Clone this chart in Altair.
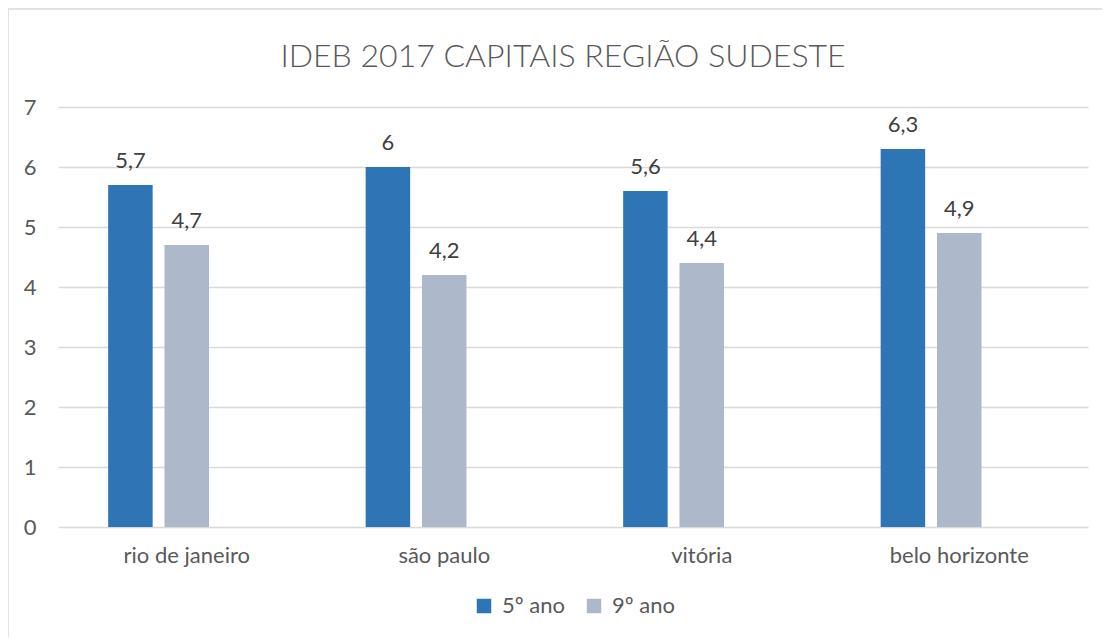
import altair as alt
import pandas as pd

cities = ["rio de janeiro", "são paulo", "vitória", "belo horizonte"]
ano5 = [5.7, 6.0, 5.6, 6.3]
ano9 = [4.7, 4.2, 4.4, 4.9]
series = ["5º ano", "9º ano"]
colors = ["#2E75B6", "#ADB9CA"]

rows = []
for c, a, b in zip(cities, ano5, ano9):
    rows.append({"city": c, "serie": series[0], "v": a})
    rows.append({"city": c, "serie": series[1], "v": b})
df = pd.DataFrame(rows)
df["label"] = df["v"].map(lambda x: (f"{x:g}").replace(".", ","))

FONT = "Lato"
TXT = "#595959"
FS = 22

x = alt.X("city:N", sort=cities, title=None,
          scale=alt.Scale(paddingInner=0, paddingOuter=0),
          axis=alt.Axis(labelAngle=0, ticks=False, domain=False, labelFontSize=FS,
                        labelColor=TXT, labelFont=FONT, labelPadding=18, grid=False))
xo = alt.XOffset("serie:N", scale=alt.Scale(domain=series + ["_"], paddingInner=0.21, paddingOuter=0.89))
y = alt.Y("v:Q", title=None,
          scale=alt.Scale(domain=[0, 7], nice=False),
          axis=alt.Axis(values=list(range(8)), ticks=False, domain=False, labelFontSize=FS,
                        labelColor=TXT, labelFont=FONT, labelPadding=22,
                        gridColor="#D9D9D9", gridWidth=1.5))

base = alt.Chart(df)

bars = base.mark_bar().encode(
    x=x, xOffset=xo, y=y,
    color=alt.Color("serie:N", scale=alt.Scale(domain=series, range=colors),
                    legend=alt.Legend(title=None, orient="none", legendX=415, legendY=488,
                                      direction="horizontal", symbolType="square",
                                      symbolSize=210, symbolStrokeWidth=0, labelFontSize=FS,
                                      labelFont=FONT, labelColor=TXT, labelOffset=7,
                                      columnPadding=18, padding=0)),
)

labels = base.mark_text(baseline="bottom", dy=-12, fontSize=FS, font=FONT, color="#404040").encode(
    x=x, xOffset=xo, y=y, text="label:N"
)

border = alt.Chart(pd.DataFrame({"a": [0]})).mark_rect(
    fill=None, stroke="#D9D9D9", strokeWidth=1.5
).encode(x=alt.value(-50), x2=alt.value(1080), y=alt.value(-98), y2=alt.value(560))

chart = alt.layer(border, bars, labels).properties(
    width=1030, height=420,
    autosize=alt.AutoSizeParams(type="none"),
    padding={"left": 50, "top": 99, "right": 14, "bottom": 110},
    title=alt.TitleParams("IDEB 2017 CAPITAIS REGIÃO SUDESTE", fontSize=32, font=FONT,
                          fontWeight=300, color=TXT, anchor="middle", frame="group",
                          baseline="alphabetic", offset=0, dy=91, dx=-10),
).configure_view(stroke=None)

chart.save("out.html", embed_options={"renderer": "svg", "actions": False})
